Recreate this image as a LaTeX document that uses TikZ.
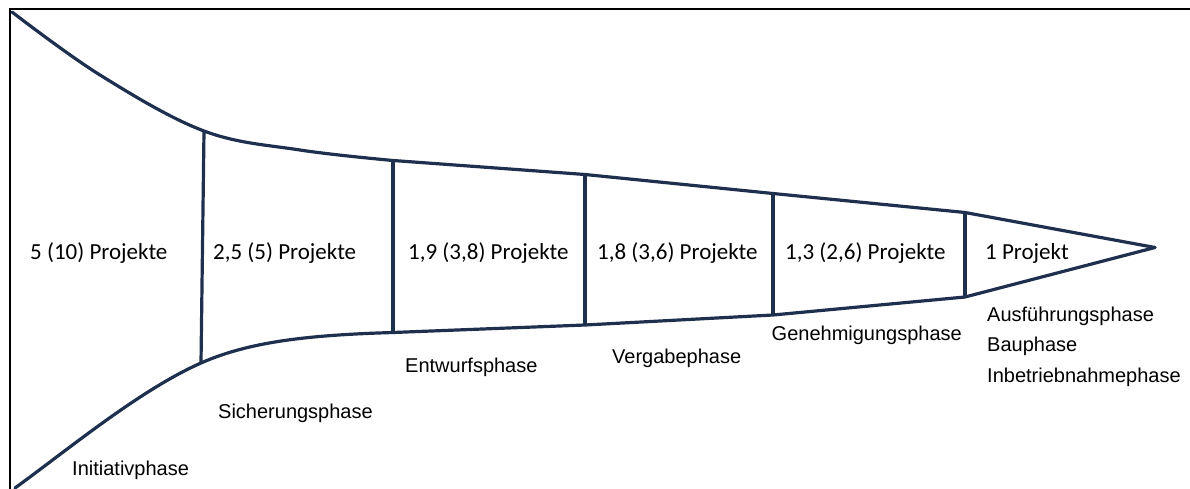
\documentclass[tikz,border=0pt]{standalone}
\usepackage{fontspec}
\setmainfont{Carlito}
\newfontfamily\arialfont{Liberation Sans}
\definecolor{funnel}{RGB}{30,48,78}
\begin{document}
\begin{tikzpicture}[x=1pt,y=-1pt,
  funnelline/.style={draw=funnel,line width=3.2pt,line join=round,line cap=round},
  divider/.style={draw=funnel,line width=3.2pt},
  count/.style={anchor=base west,inner sep=0pt,font=\fontsize{23}{27}\selectfont},
  phase/.style={anchor=base west,inner sep=0pt,font=\arialfont\fontsize{20}{24}\selectfont},
  frame/.style={draw=black,line width=2pt}]
\useasboundingbox (0,0) rectangle (1190,489);
% frame
\coordinate (fbl) at (10,489);
\coordinate (ftl) at (10,9);
\coordinate (ftr) at (1190,9);
\draw[frame] (fbl) -- (ftl) -- (ftr);
% divider end points
\coordinate (t1) at (204,131);   \coordinate (b1) at (201,363);
\coordinate (t2) at (393,160.5); \coordinate (b2) at (393,332.5);
\coordinate (t3) at (585,174.5); \coordinate (b3) at (585,325);
\coordinate (t4) at (773,193.5); \coordinate (b4) at (773,315);
\coordinate (t5) at (965,212.5); \coordinate (b5) at (965,297);
\coordinate (tip) at (1155,247.5);
\coordinate (ts) at (12,12);
\coordinate (bs) at (15,488);
% top edge
\draw[funnelline] plot[smooth,tension=0.6] coordinates {(ts) (100,75) (t1) (300,150) (t2)}
  -- (t3) -- (t4) -- (t5) -- (tip);
% bottom edge
\draw[funnelline] (bs) .. controls (70,448) and (140,390) .. (b1)
  .. controls (250,341.3) and (310,335) .. (b2)
  -- (b3) -- (b4) -- (b5) -- (tip);
% dividers
\foreach \i in {1,...,5} \draw[divider] (t\i) -- (b\i);
% counts
\node[count] (c0) at (30,259) {5 (10) Projekte};
\node[count] (c1) at (213,259) {2,5 (5) Projekte};
\node[count] (c2) at (408,259) {1,9 (3,8) Projekte};
\node[count] (c3) at (597,259) {1,8 (3,6) Projekte};
\node[count] (c4) at (785,259) {1,3 (2,6) Projekte};
\node[count] (c5) at (985,259) {1 Projekt};
% phases
\node[phase] (p0) at (72,475) {Initiativphase};
\node[phase] (p1) at (218,418) {Sicherungsphase};
\node[phase] (p2) at (405,372) {Entwurfsphase};
\node[phase] (p3) at (612,363) {Vergabephase};
\node[phase] (p4) at (771.5,340) {Genehmigungsphase};
\node[phase] (p5) at (987,321.7) {Ausführungsphase};
\node[phase] (p6) at (987,351.7) {Bauphase};
\node[phase] (p7) at (987,382.7) {Inbetriebnahmephase};
\end{tikzpicture}
\end{document}
